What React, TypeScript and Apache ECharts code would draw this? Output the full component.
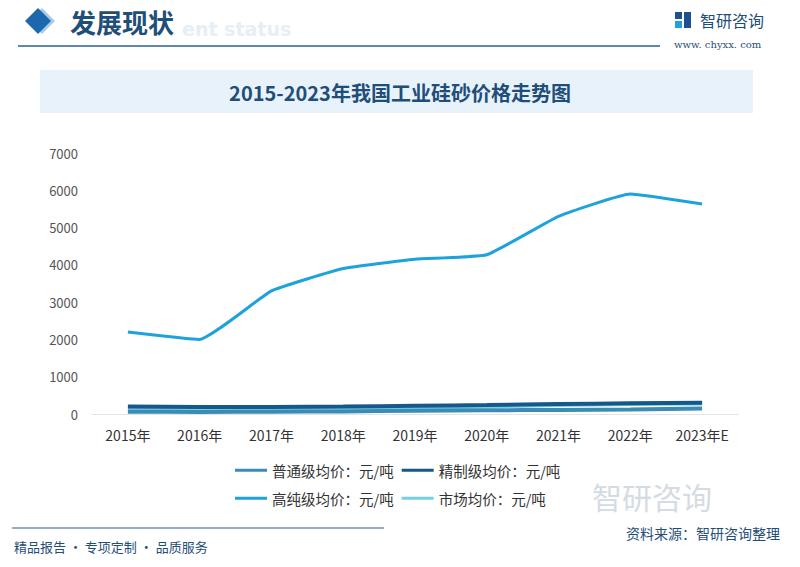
import React, { useEffect, useRef } from "react";
import * as echarts from "echarts";

const categories = ["2015年", "2016年", "2017年", "2018年", "2019年", "2020年", "2021年", "2022年", "2023年E"];
const ordinary = [60, 55, 60, 70, 85, 100, 110, 120, 150];
const refined = [200, 190, 190, 200, 220, 240, 265, 285, 300];
const highPurity = [2200, 2000, 3300, 3900, 4150, 4270, 5300, 5900, 5630];
const market = [120, 110, 120, 140, 165, 200, 240, 270, 280];
const seriesNames = ["普通级均价：元/吨", "精制级均价：元/吨", "高纯级均价：元/吨", "市场均价：元/吨"];
const colors = ["#3b8cb5", "#17588a", "#1ea2dc", "#72d0ea"];

const FONT = "'Noto Sans CJK SC', 'Noto Sans', sans-serif";

export default function App() {
  const ref = useRef<HTMLDivElement>(null);
  useEffect(() => {
    if (!ref.current) return;
    const chart = echarts.init(ref.current, null, { renderer: "svg" });
    const data = [ordinary, refined, highPurity, market];
    const legendBase = {
      left: 230,
      itemWidth: 32,
      itemHeight: 3,
      itemGap: 8,
      icon: "rect",
      textStyle: { color: "#333", fontSize: 14.5, fontFamily: FONT },
    };
    chart.setOption({
      animation: false,
      backgroundColor: "#ffffff",
      textStyle: { fontFamily: FONT },
      grid: { left: 92, right: 62, top: 153, bottom: 153 },
      xAxis: {
        type: "category",
        data: categories,
        boundaryGap: true,
        axisLine: { lineStyle: { color: "#e3e3e3" } },
        axisTick: { show: false },
        axisLabel: { color: "#333", fontSize: 14, margin: 14, fontFamily: FONT },
      },
      yAxis: {
        type: "value",
        min: 0,
        max: 7000,
        interval: 1000,
        splitLine: { show: false },
        axisLine: { show: false },
        axisTick: { show: false },
        axisLabel: { color: "#555", fontSize: 13, margin: 14, fontFamily: FONT, formatter: (v: number) => String(v) },
      },
      legend: [
        { ...legendBase, data: [seriesNames[0], seriesNames[1]], top: 458 },
        { ...legendBase, data: [seriesNames[2], seriesNames[3]], top: 486 },
      ],
      series: data.map((d, i) => ({
        name: seriesNames[i],
        type: "line",
        data: d,
        smooth: 0.12,
        symbol: "none",
        lineStyle: { color: colors[i], width: i === 2 ? 3 : 4 },
        itemStyle: { color: colors[i] },
        z: i === 2 ? 3 : i === 1 ? 2 : 4 - i,
      })),
      graphic: [
        // header
        { type: "polygon", shape: { points: [[42, 8], [55, 21], [42, 34], [29, 21]] }, style: { fill: "#a9c9e8" }, z: 1 },
        { type: "polygon", shape: { points: [[38, 8], [51, 21], [38, 34], [25, 21]] }, style: { fill: "#1d68ad" }, z: 2 },
        { type: "text", x: 182, y: 29, style: { text: "ent status", fill: "#e6eef6", font: "bold 19px 'DejaVu Sans', sans-serif", textVerticalAlign: "middle" }, z: 1 },
        { type: "text", x: 70, y: 21, style: { text: "发展现状", fill: "#1f4e79", font: "bold 26px " + FONT, textVerticalAlign: "middle" }, z: 2 },
        { type: "line", shape: { x1: 18, y1: 46, x2: 660, y2: 46 }, style: { stroke: "#2a5f8c", lineWidth: 1.5 } },
        // logo
        { type: "rect", shape: { x: 675, y: 12, width: 7, height: 7 }, style: { fill: "#1d4f91" } },
        { type: "rect", shape: { x: 675, y: 21, width: 7, height: 7 }, style: { fill: "#1ea2dc" } },
        { type: "rect", shape: { x: 684, y: 12, width: 7, height: 16 }, style: { fill: "#1d4f91" } },
        { type: "text", x: 700, y: 20, style: { text: "智研咨询", fill: "#1f4e79", font: "16px " + FONT, textVerticalAlign: "middle" } },
        { type: "text", x: 674, y: 44, style: { text: "www. chyxx. com", fill: "#1f4e79", font: "10px 'DejaVu Serif', serif", textVerticalAlign: "middle" } },
        // title band
        { type: "rect", shape: { x: 40, y: 70, width: 713, height: 43 }, style: { fill: "#e8f2fb" } },
        { type: "text", x: 400, y: 92, style: { text: "2015-2023年我国工业硅砂价格走势图", fill: "#1f4e79", font: "bold 20px " + FONT, textAlign: "center", textVerticalAlign: "middle" } },
        // footer
        { type: "text", x: 592, y: 496, style: { text: "智研咨询", fill: "#d4dbe3", font: "30px " + FONT, textVerticalAlign: "middle" } },
        { type: "line", shape: { x1: 12, y1: 528, x2: 384, y2: 528 }, style: { stroke: "#2a5f8c", lineWidth: 1.2 } },
        { type: "text", x: 14, y: 546, style: { text: "精品报告 · 专项定制 · 品质服务", fill: "#1f4e79", font: "13px " + FONT, textVerticalAlign: "middle" } },
        { type: "text", x: 780, y: 533, style: { text: "资料来源：智研咨询整理", fill: "#1f4e79", font: "14px " + FONT, textAlign: "right", textVerticalAlign: "middle" } },
      ],
    });
    return () => chart.dispose();
  }, []);
  return <div ref={ref} style={{ position: "fixed", left: 0, top: 0, width: 800, height: 567 }} />;
}
